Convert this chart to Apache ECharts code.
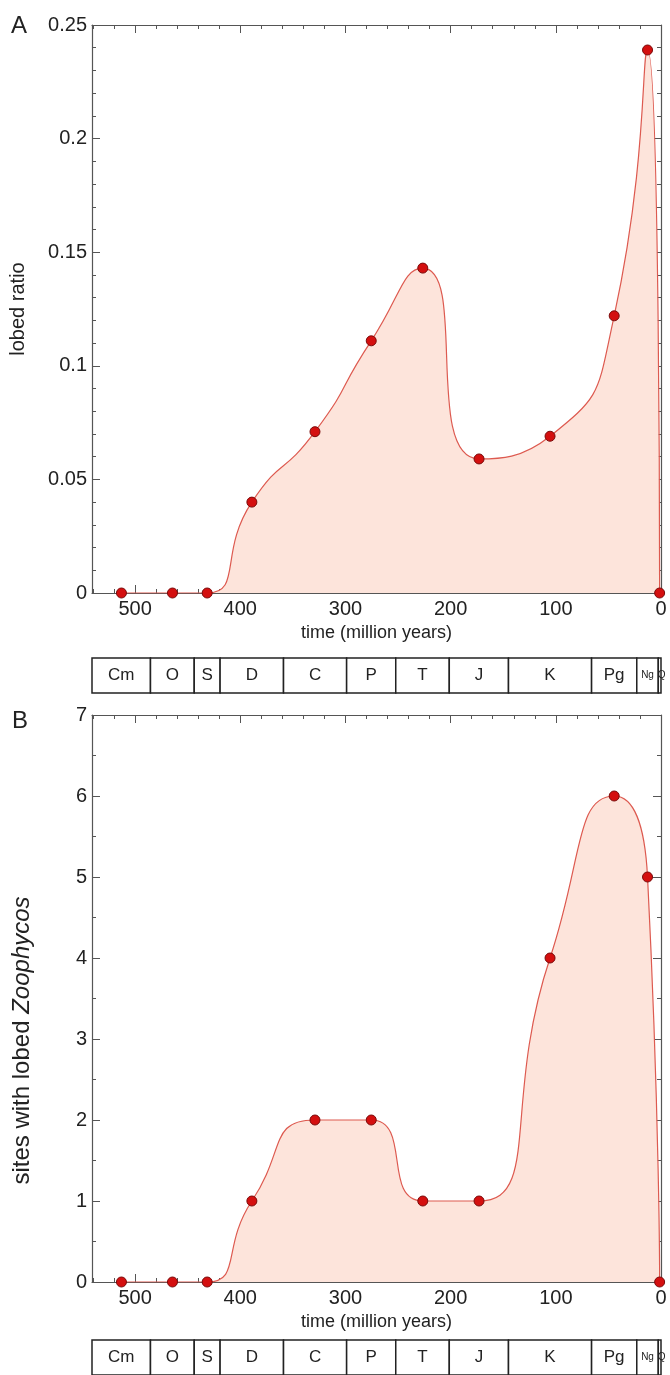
<!DOCTYPE html>
<html><head><meta charset="utf-8">
<script src="https://cdn.jsdelivr.net/npm/echarts@6/dist/echarts.min.js"></script>
<style>html,body{margin:0;padding:0;background:#fff}#c{width:670px;height:1375px}</style>
</head><body><div id="c"></div>
<script>
// ---- data ----
const ages = [513, 464.5, 431.5, 389, 329, 275.5, 226.5, 173, 105.5, 44.5, 12.8, 1.3];
const lobedRatio = [0, 0, 0, 0.040, 0.071, 0.111, 0.143, 0.059, 0.069, 0.122, 0.239, 0];
const lobedSites = [0, 0, 0, 1, 2, 2, 1, 1, 4, 6, 5, 0];
const periodNames = ['Cm', 'O', 'S', 'D', 'C', 'P', 'T', 'J', 'K', 'Pg', 'Ng', 'Q'];
const periodStart = [541, 485.4, 443.8, 419.2, 358.9, 298.9, 252.2, 201.3, 145, 66, 23.03, 2.58];
const periodEnd = [485.4, 443.8, 419.2, 358.9, 298.9, 252.2, 201.3, 145, 66, 23.03, 2.58, 0];
const timeTicks = [0, 100, 200, 300, 400, 500];

const FONT = "'Liberation Sans', Arial, Helvetica, sans-serif";
const AX = '#555';
const TXT = '#222';

const chart = echarts.init(document.getElementById('c'), null, {renderer: 'canvas'});

function xMajor(grid, withLabels, pos) {
  return {
    gridIndex: grid, type: 'value', min: 0, max: 541, inverse: true, interval: 100, position: pos,
    axisLine: {show: true, onZero: false, lineStyle: {color: AX, width: 1.2}},
    axisTick: {show: true, inside: true, length: 8, lineStyle: {color: AX}},
    axisLabel: {show: withLabels, fontSize: 20, fontFamily: FONT, color: TXT, margin: 6, showMaxLabel: false,
      formatter: v => timeTicks.indexOf(v) >= 0 ? String(v) : ''},
    splitLine: {show: false},
    name: withLabels ? 'time (million years)' : '',
    nameLocation: 'middle', nameGap: 31,
    nameTextStyle: {fontSize: 18, fontFamily: FONT, color: TXT}
  };
}
function xMinor(grid, pos) {
  return {
    gridIndex: grid, type: 'value', min: 0, max: 541, inverse: true, interval: 20, position: pos,
    axisLine: {show: false, onZero: false},
    axisTick: {show: true, inside: true, length: 4, lineStyle: {color: AX}},
    axisLabel: {show: false}, splitLine: {show: false}
  };
}
function xHidden(grid) {
  return {gridIndex: grid, type: 'value', min: 0, max: 541, inverse: true, show: false,
    axisLine: {onZero: false}, splitLine: {show: false}};
}
function yAxisDef(grid, max, interval, minorSplit, pos, withLabels, name, nameSize, nameGap, namePad) {
  return {
    gridIndex: grid, type: 'value', min: 0, max: max, interval: interval, position: pos,
    axisLine: {show: true, onZero: false, lineStyle: {color: AX, width: 1.2}},
    axisTick: {show: true, inside: true, length: 8, lineStyle: {color: AX}},
    minorTick: {show: true, splitNumber: minorSplit, length: 4, lineStyle: {color: AX}},
    axisLabel: {show: withLabels, fontSize: 20, fontFamily: FONT, color: TXT, margin: 5},
    splitLine: {show: false}, minorSplitLine: {show: false},
    name: withLabels ? name : '',
    nameLocation: 'middle', nameRotate: 90, nameGap: nameGap || 62,
    nameTextStyle: {fontSize: nameSize || 20, fontFamily: FONT, color: TXT, padding: namePad || 0,
      rich: {n: {fontSize: nameSize || 20, fontFamily: FONT, color: TXT},
             i: {fontSize: nameSize || 20, fontFamily: FONT, color: TXT, fontStyle: 'italic'}}}
  };
}
function yHidden(grid) {
  return {gridIndex: grid, type: 'value', min: 0, max: 1, show: false,
    axisLine: {onZero: false}, splitLine: {show: false}};
}

function renderPeriod(params, api) {
  const p0 = api.coord([api.value(0), 0]);
  const p1 = api.coord([api.value(1), 1]);
  const x0 = Math.min(p0[0], p1[0]), x1 = Math.max(p0[0], p1[0]);
  const y0 = Math.min(p0[1], p1[1]), y1 = Math.max(p0[1], p1[1]);
  const name = periodNames[params.dataIndex];
  const small = name === 'Ng' || name === 'Q';
  return {
    type: 'group',
    children: [
      {type: 'rect', shape: {x: x0, y: y0, width: x1 - x0, height: y1 - y0},
       style: {fill: '#fff', stroke: '#222', lineWidth: 1.5}},
      {type: 'text', z2: 10, style: {text: name, x: (x0 + x1) / 2 + (name === 'Q' ? 2 : 0), y: (y0 + y1) / 2,
        align: 'center', verticalAlign: 'middle', fontSize: small ? 10 : 17,
        fontFamily: FONT, fill: TXT}}
    ]
  };
}

const periodData = periodNames.map((n, i) => [periodStart[i], periodEnd[i]]);

function lineSeries(xi, yi, values) {
  return {
    type: 'line', xAxisIndex: xi, yAxisIndex: yi,
    data: ages.map((a, i) => [a, values[i]]),
    smooth: 0.6,
    symbol: 'circle', symbolSize: 10,
    itemStyle: {color: '#d40f0f', borderColor: '#7a0a0a', borderWidth: 1},
    lineStyle: {color: '#dd5a50', width: 1.2},
    areaStyle: {color: '#fde4db', opacity: 1},
    z: 3
  };
}

const option = {
  backgroundColor: '#fff',
  animation: false,
  grid: [
    {left: 92, top: 25, width: 569, height: 568},
    {left: 92, top: 658, width: 569, height: 35},
    {left: 92, top: 715, width: 569, height: 567},
    {left: 92, top: 1340, width: 569, height: 44}
  ],
  xAxis: [
    xMajor(0, true, 'bottom'), xMinor(0, 'bottom'), xMajor(0, false, 'top'), xMinor(0, 'top'),
    xHidden(1),
    xMajor(2, true, 'bottom'), xMinor(2, 'bottom'), xMajor(2, false, 'top'), xMinor(2, 'top'),
    xHidden(3)
  ],
  yAxis: [
    yAxisDef(0, 0.25, 0.05, 5, 'left', true, 'lobed ratio', 20, 64),
    yAxisDef(0, 0.25, 0.05, 5, 'right', false, ''),
    yHidden(1),
    yAxisDef(2, 7, 1, 2, 'left', true, '{n|sites with lobed }{i|Zoophycos}', 24, 58, [0, 84, 0, 0]),
    yAxisDef(2, 7, 1, 2, 'right', false, ''),
    yHidden(3)
  ],
  series: [
    lineSeries(0, 0, lobedRatio),
    {type: 'custom', xAxisIndex: 4, yAxisIndex: 2, renderItem: renderPeriod, data: periodData, clip: false},
    lineSeries(5, 3, lobedSites),
    {type: 'custom', xAxisIndex: 9, yAxisIndex: 5, renderItem: renderPeriod, data: periodData, clip: false}
  ],
  graphic: [
    {type: 'text', left: 11, top: 14, style: {text: 'A', fontSize: 24, fontFamily: FONT, fill: TXT}},
    {type: 'text', left: 12, top: 709, style: {text: 'B', fontSize: 24, fontFamily: FONT, fill: TXT}}
  ]
};
chart.setOption(option);
</script>
</body></html>
